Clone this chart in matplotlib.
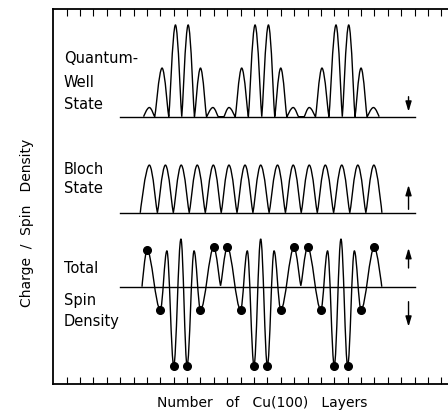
import matplotlib

matplotlib.use("Agg")
import matplotlib.pyplot as plt
from matplotlib.patches import PathPatch
from matplotlib.path import Path

# Extrema of each density curve, x in layer units, y in units of the
# quantum-well peak height.
qw_x = [6.75, 7.18, 7.58, 8.13, 8.63, 9.13, 9.6, 10.08, 10.55, 11.0, 11.45,
        11.93, 12.33, 12.75, 13.13, 13.6, 14.08, 14.58, 15.08, 15.58, 16.08,
        16.55, 17.0, 17.45, 17.93, 18.33, 18.75, 19.13, 19.6, 20.08, 20.6,
        21.13, 21.6, 22.08, 22.55, 23.0, 23.45, 23.93, 24.35]
qw_y = [0, 0.10, 0, 0.53, 0, 1.0, 0, 1.0, 0, 0.53, 0, 0.10, 0, 0, 0.10, 0,
        0.53, 0, 1.0, 0, 1.0, 0, 0.53, 0, 0.10, 0, 0, 0.10, 0, 0.53, 0, 1.0,
        0, 1.0, 0, 0.53, 0, 0.10, 0]

bloch_x = [6.5, 7.18, 7.78, 8.38, 8.97, 9.56, 10.16, 10.76, 11.36, 11.96,
           12.55, 13.13, 13.73, 14.33, 14.92, 15.5, 16.13, 16.76, 17.35,
           17.93, 18.53, 19.13, 19.73, 20.33, 20.95, 21.56, 22.16, 22.76,
           23.36, 23.96, 24.56]
bloch_y = [0, 0.52, 0, 0.52, 0, 0.52, 0, 0.52, 0, 0.52, 0, 0.52, 0, 0.52, 0,
           0.52, 0, 0.52, 0, 0.52, 0, 0.52, 0, 0.52, 0, 0.52, 0, 0.52, 0,
           0.52, 0]

spin_x = [6.63, 7.0, 8.0, 8.49, 9.0, 9.54, 10.0, 10.52, 11.0, 12.0, 12.5,
          13.0, 14.0, 14.5, 15.0, 15.5, 16.0, 16.5, 17.0, 18.0, 18.5, 19.0,
          20.0, 20.5, 21.0, 21.5, 22.0, 22.5, 23.0, 24.0, 24.55]
spin_y = [0, 0.40, -0.25, 0.39, -0.86, 0.52, -0.86, 0.39, -0.25, 0.43, 0.01,
          0.43, -0.25, 0.39, -0.86, 0.52, -0.86, 0.39, -0.25, 0.43, 0.01,
          0.43, -0.25, 0.39, -0.86, 0.52, -0.86, 0.39, -0.25, 0.43, 0]

# layer-resolved spin density (dots)
layer_x = [7, 8, 9, 10, 11, 12, 13, 14, 15, 16, 17, 18, 19, 20, 21, 22, 23, 24]
layer_spin = [0.40, -0.25, -0.86, -0.86, -0.25, 0.43, 0.43, -0.25, -0.86,
              -0.86, -0.25, 0.43, 0.43, -0.25, -0.86, -0.86, -0.25, 0.43]

tick_layers = list(range(1, 30))

W, H = 448, 415
SCALE = 91.7                 # px per unit height
BASE_QW, BASE_BLOCH, BASE_SPIN = 267.3, 171.2, 97.3
LINE_X0, LINE_X1 = 5.0, 27.05
ARROW_X = 26.55


def smooth_path(xs, ys, base, peak_frac=0.42, zero_frac=0.1):
    """Cubic Bezier through extrema with flat tangents; near-zero ends stay pointy."""
    verts = [(xs[0], base + SCALE * ys[0])]
    codes = [Path.MOVETO]
    n = len(xs)
    for i in range(n - 1):
        x0, y0, x1, y1 = xs[i], ys[i], xs[i + 1], ys[i + 1]
        dx = x1 - x0
        if y0 == y1:
            verts.append((x1, base + SCALE * y1))
            codes.append(Path.LINETO)
            continue
        f0 = 0.0 if i == 0 else (zero_frac if abs(y0) < 0.05 else peak_frac)
        f1 = 0.0 if i + 1 == n - 1 else (zero_frac if abs(y1) < 0.05 else peak_frac)
        verts += [(x0 + f0 * dx, base + SCALE * y0),
                  (x1 - f1 * dx, base + SCALE * y1),
                  (x1, base + SCALE * y1)]
        codes += [Path.CURVE4] * 3
    return Path(verts, codes)


def px(x, y):
    return x / W, 1 - y / H


fig = plt.figure(figsize=(W / 100, H / 100), dpi=100, facecolor="white")
ax = fig.add_axes([53.3 / W, 31 / H, (W - 53.3) / W, 375 / H])
ax.set_xlim(0, 29.5)
ax.set_ylim(0, 375)

for base in (BASE_QW, BASE_BLOCH, BASE_SPIN):
    ax.plot([LINE_X0, LINE_X1], [base, base], color="black", lw=1.0)

ax.add_patch(PathPatch(smooth_path(qw_x, qw_y, BASE_QW), fill=False, lw=1.0,
                       edgecolor="black"))
ax.add_patch(PathPatch(smooth_path(bloch_x, bloch_y, BASE_BLOCH), fill=False,
                       lw=1.0, edgecolor="black"))
ax.add_patch(PathPatch(smooth_path(spin_x, spin_y, BASE_SPIN, peak_frac=0.36),
                       fill=False, lw=1.0, edgecolor="black"))
ax.plot(layer_x, [BASE_SPIN + SCALE * v for v in layer_spin], "o",
        color="black", ms=5.5, zorder=3)

# spin direction arrows
arrow = dict(arrowstyle="-|>,head_width=0.18,head_length=0.6", color="black",
             lw=1.0, shrinkA=0, shrinkB=0)
ax.annotate("", xy=(ARROW_X, 272.3), xytext=(ARROW_X, 287.3), arrowprops=arrow)
ax.annotate("", xy=(ARROW_X, 199.0), xytext=(ARROW_X, 174.7), arrowprops=arrow)
ax.annotate("", xy=(ARROW_X, 136.0), xytext=(ARROW_X, 116.0), arrowprops=arrow)
ax.annotate("", xy=(ARROW_X, 57.3), xytext=(ARROW_X, 82.3), arrowprops=arrow)

ax.set_xticks(tick_layers)
ax.set_yticks([])
ax.tick_params(axis="x", direction="in", length=5, width=0.8, top=True,
               bottom=True, labelbottom=False, labeltop=False)
ax.spines["right"].set_visible(False)
for side in ("left", "top", "bottom"):
    ax.spines[side].set_linewidth(1.3)

label_kw = dict(fontsize=10.5, family="DejaVu Sans", ha="left", va="baseline")
for text, y in (("Quantum-", 62.7), ("Well", 86.7), ("State", 109.3),
                ("Bloch", 174.0), ("State", 193.3),
                ("Total", 272.7), ("Spin", 305.5), ("Density", 326.0)):
    fig.text(*px(64, y), text, **label_kw)

fig.text(*px(26.7, 222.5), "Charge  /  Spin   Density", rotation=90,
         ha="center", va="center", fontsize=10)
fig.text(*px(262.5, 403), "Number   of   Cu(100)   Layers", ha="center",
         va="center", fontsize=10)

fig.savefig("out.png", dpi=100, facecolor="white")
